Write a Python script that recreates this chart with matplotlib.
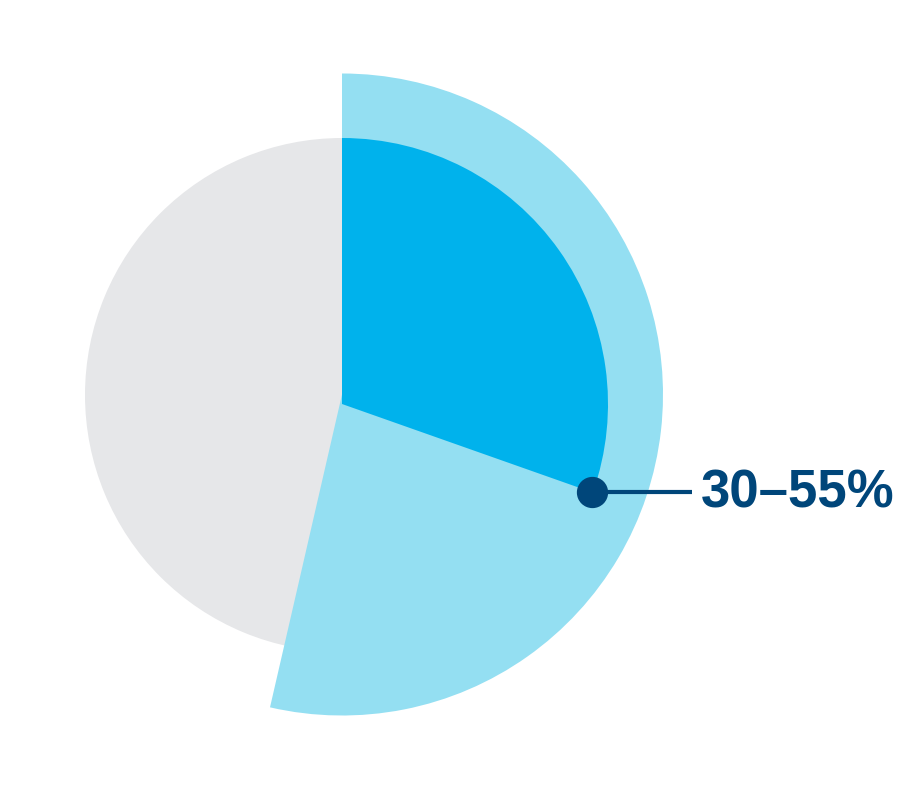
import numpy as np
import matplotlib
matplotlib.use("Agg")
import matplotlib.pyplot as plt

# share of the whole, in percent
low_share = 30.4
high_share = 53.6
label_text = "30–55%"

gray = "#e6e7e9"
light_blue = "#94dff2"
dark_blue = "#00b2ec"
navy = "#00467a"

fig = plt.figure(figsize=(9.08, 8.05), dpi=100)
ax = fig.add_axes([0, 0, 1, 1])

# background disc
ax.pie([100], colors=[gray], center=(342, 410), radius=257,
       startangle=90, counterclock=False, frame=True)
# upper range
ax.pie([high_share, 100 - high_share], colors=[light_blue, "none"],
       center=(342, 410.5), radius=321, startangle=90, counterclock=False,
       frame=True)
# lower range
ax.pie([low_share, 100 - low_share], colors=[dark_blue, "none"],
       center=(342, 401), radius=266, startangle=90, counterclock=False,
       frame=True)

# marker at the end of the lower range
ang = np.deg2rad(90 - 360 * low_share / 100)
dx, dy = 342 + 265 * np.cos(ang), 401 + 265 * np.sin(ang)
ax.plot([dx, 692], [dy, dy], color=navy, lw=3, solid_capstyle="butt")
ax.plot(dx, dy, "o", color=navy, ms=21.5)
ax.text(701, dy - 1, label_text, color=navy, fontsize=38,
        fontweight="bold", family=["Liberation Sans", "DejaVu Sans"],
        ha="left", va="center")

ax.set_xlim(0, 908)
ax.set_ylim(0, 805)
ax.set_aspect("equal")
ax.axis("off")

fig.savefig("out.png", dpi=100)
